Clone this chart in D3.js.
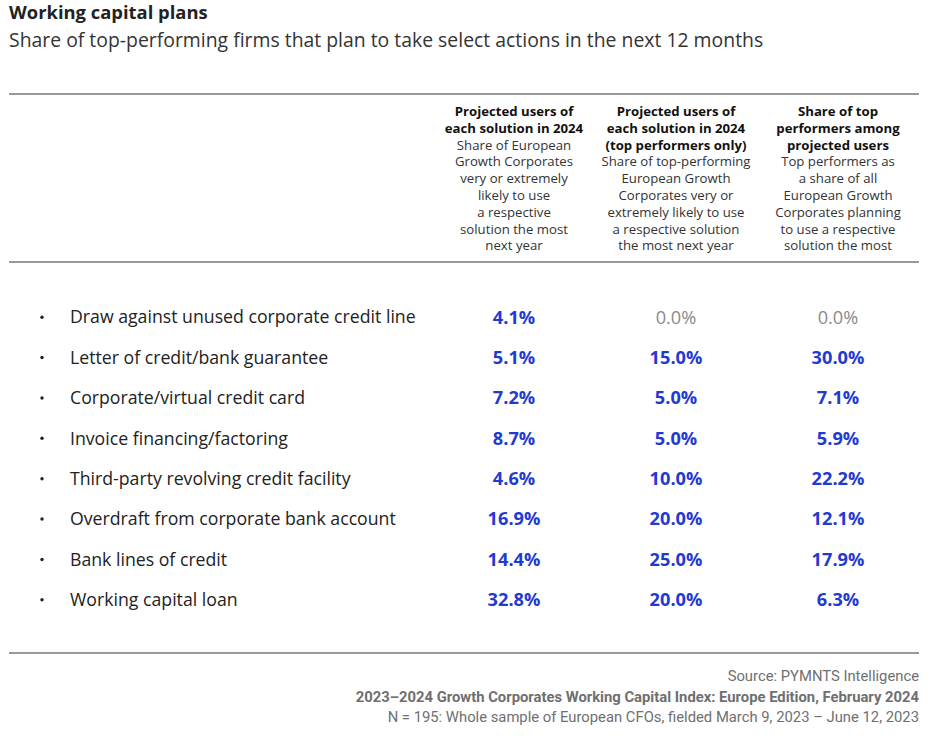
<!DOCTYPE html>
<html><head><meta charset="utf-8">
<script src="https://cdn.jsdelivr.net/npm/d3@7"></script>
<style>body{margin:0;background:#fff;} svg{display:block;}</style>
</head><body>
<script>
const categories = [
  "Draw against unused corporate credit line",
  "Letter of credit/bank guarantee",
  "Corporate/virtual credit card",
  "Invoice financing/factoring",
  "Third-party revolving credit facility",
  "Overdraft from corporate bank account",
  "Bank lines of credit",
  "Working capital loan"
];
const projectedAll = [4.1, 5.1, 7.2, 8.7, 4.6, 16.9, 14.4, 32.8];
const projectedTop = [0.0, 15.0, 5.0, 5.0, 10.0, 20.0, 25.0, 20.0];
const shareTop = [0.0, 30.0, 7.1, 5.9, 22.2, 12.1, 17.9, 6.3];
const columnHeaders = [
  {bold: ["Projected users of", "each solution in 2024"],
   text: ["Share of European", "Growth Corporates", "very or extremely", "likely to use", "a respective", "solution the most", "next year"]},
  {bold: ["Projected users of", "each solution in 2024", "(top performers only)"],
   text: ["Share of top-performing", "European Growth", "Corporates very or", "extremely likely to use", "a respective solution", "the most next year"]},
  {bold: ["Share of top", "performers among", "projected users"],
   text: ["Top performers as", "a share of all", "European Growth", "Corporates planning", "to use a respective", "solution the most"]}
];
const title = "Working capital plans";
const subtitle = "Share of top-performing firms that plan to take select actions in the next 12 months";
const footer = [
  {t: "Source: PYMNTS Intelligence", bold: false},
  {t: "2023–2024 Growth Corporates Working Capital Index: Europe Edition, February 2024", bold: true},
  {t: "N = 195: Whole sample of European CFOs, fielded March 9, 2023 – June 12, 2023", bold: false}
];

const W = 936, H = 746;
const font = "'Open Sans', 'Noto Sans', sans-serif";
const svg = d3.select("body").append("svg").attr("width", W).attr("height", H)
  .style("font-family", font);

svg.append("text").attr("x", 9).attr("y", 19).text(title)
  .attr("font-size", 18.4).attr("font-weight", 700).attr("fill", "#222");
svg.append("text").attr("x", 9).attr("y", 47).text(subtitle)
  .attr("font-size", 19.4).attr("fill", "#333");

const rule = y => svg.append("line").attr("x1", 9).attr("x2", 919).attr("y1", y).attr("y2", y)
  .attr("stroke", "#9a9a9a").attr("stroke-width", 2);
rule(94); rule(262); rule(653);

const x = d3.scalePoint().domain([0,1,2]).range([514, 838]);
const y = d3.scaleBand().domain(d3.range(categories.length)).range([297, 620]);

// headers
columnHeaders.forEach((h, i) => {
  const lines = h.bold.map(t => ({t, b: true})).concat(h.text.map(t => ({t, b: false})));
  const g = svg.append("text").attr("text-anchor", "middle").attr("font-size", 13.2).attr("fill", "#222");
  lines.forEach((l, j) => {
    g.append("tspan").attr("x", x(i)).attr("y", 116 + j * 16.8).text(l.t)
      .attr("font-weight", l.b ? 700 : 400).attr("fill", l.b ? "#111" : "#333");
  });
});

// rows
const rows = svg.selectAll("g.row").data(categories).join("g").attr("class", "row")
  .attr("transform", (d, i) => `translate(0,${y(i) + y.bandwidth()/2})`);
rows.append("circle").attr("cx", 42).attr("cy", 0).attr("r", 1.7).attr("fill", "#222");
rows.append("text").attr("x", 70).attr("dy", "0.35em").text(d => d)
  .attr("font-size", 17.7).attr("fill", "#222");

const series = [projectedAll, projectedTop, shareTop];
series.forEach((vals, ci) => {
  rows.append("text").attr("x", x(ci)).attr("dy", "0.35em").attr("text-anchor", "middle")
    .text((d, i) => vals[i].toFixed(1) + "%")
    .attr("font-size", 18.2)
    .attr("font-weight", (d, i) => vals[i] === 0 ? 400 : 700)
    .attr("fill", (d, i) => vals[i] === 0 ? "#8a8a8a" : "#1f3bd1");
});

// footer
svg.append("g").selectAll("text").data(footer).join("text")
  .attr("x", 919).attr("y", (d, i) => 681 + i * 20.5).attr("text-anchor", "end")
  .attr("font-family", "Roboto, sans-serif")
  .attr("font-size", 14.8).attr("font-weight", d => d.bold ? 700 : 400)
  .attr("fill", "#6f6f6f").text(d => d.t);
</script>
</body></html>
